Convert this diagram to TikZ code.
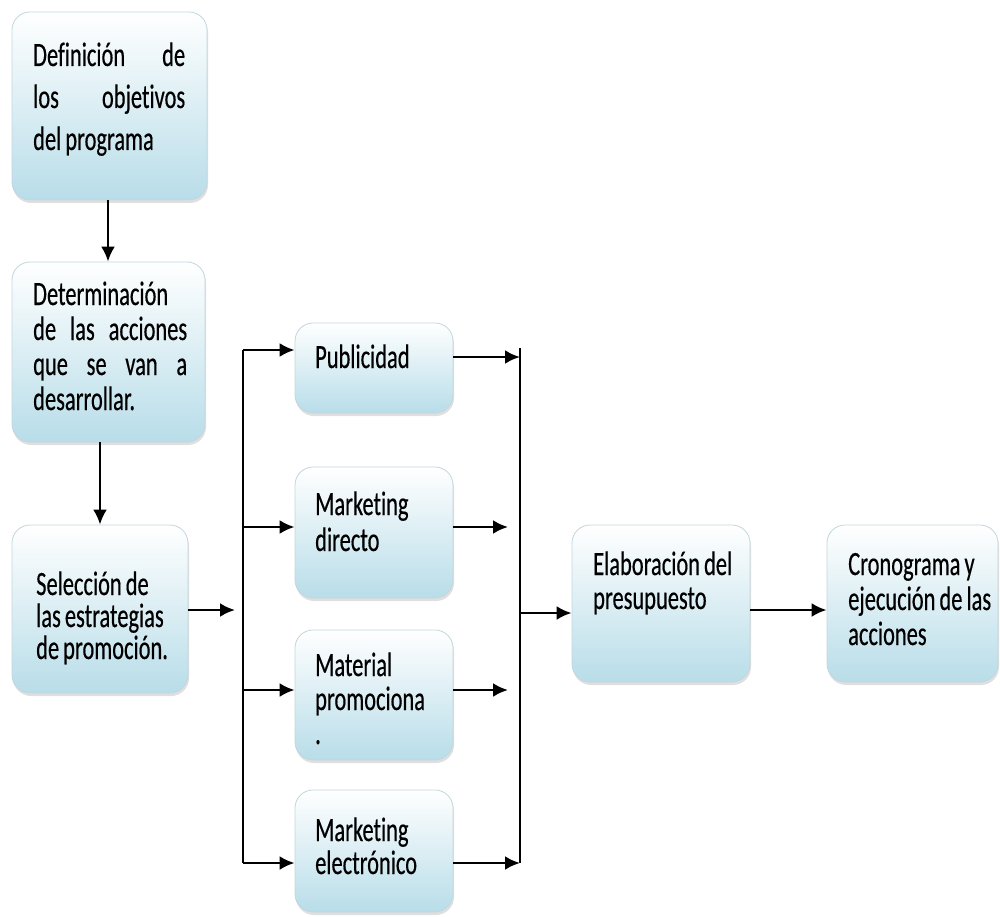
\documentclass[tikz,border=0pt]{standalone}
\usepackage{fontspec}
\setmainfont{Carlito}[FakeStretch=0.66, FakeBold=0.4, WordSpace=0.8, Ligatures=NoCommon]
\usetikzlibrary{arrows.meta,shadows}
\definecolor{boxblue}{HTML}{B8DDE9}
\definecolor{boxline}{HTML}{C3D6DE}
\tikzset{stepbox/.style={draw=boxline, line width=0.8pt, rounded corners=18pt,
        top color=white, bottom color=boxblue,
        drop shadow={opacity=0.25, shadow xshift=1pt, shadow yshift=-3pt}},
    boxtext/.style={anchor=base west, inner sep=0pt, text width=#1, align=flush left},
    boxtext/.default=170pt,
    flow/.style={line width=2.6pt, -{Latex[length=15pt,width=14pt]}},
    bus/.style={line width=2.6pt},
    }

\begin{document}
\begin{tikzpicture}[x=1pt,y=-1pt]
	\useasboundingbox (0,0) rectangle (1000,917);
	% cajas
	\node[stepbox, minimum width=195, minimum height=188] (def) at (109.5,106) {};
	\node[stepbox, minimum width=193, minimum height=180] (det) at (108.5,352) {};
	\node[stepbox, minimum width=176, minimum height=168] (sel) at (100,609) {};
	\node[stepbox, minimum width=158, minimum height=90] (pub) at (374,368) {};
	\node[stepbox, minimum width=158, minimum height=131] (mdir) at (374,532.5) {};
	\node[stepbox, minimum width=158, minimum height=130] (mprom) at (374,695) {};
	\node[stepbox, minimum width=158, minimum height=122] (melec) at (374,851) {};
	\node[stepbox, minimum width=178, minimum height=157] (elab) at (661,603.5) {};
	\node[stepbox, minimum width=171, minimum height=157] (cron) at (912.5,603.5) {};
	% textos
	\node[boxtext=152pt, align=justify, font=\fontsize{34}{42}\selectfont] (deftxt) at (33,66)
		{Definición de\linebreak los objetivos\linebreak del programa};
	\node[boxtext=154pt, align=justify, font=\fontsize{34}{35}\selectfont] (dettxt) at (33,305)
		{Determinación\linebreak de las acciones\linebreak que se van a\linebreak desarrollar.};
	\node[boxtext, font=\fontsize{34}{32}\selectfont] (seltxt) at (36,595)
		{Selección de\\las estrategias\\de promoción.};
	\node[boxtext, font=\fontsize{34}{36}\selectfont] (pubtxt) at (315,368) {Publicidad};
	\node[boxtext, font=\fontsize{34}{36}\selectfont] (mdirtxt) at (315,515) {Marketing\\directo};
	\node[boxtext, font=\fontsize{34}{34}\selectfont] (mpromtxt) at (315,676) {Material\\promociona\\.};
	\node[boxtext, font=\fontsize{34}{33}\selectfont] (melectxt) at (315,841) {Marketing\\electrónico};
	\node[boxtext, font=\fontsize{34}{34}\selectfont] (elabtxt) at (593,575) {Elaboración del\\presupuesto};
	\node[boxtext, font=\fontsize{34}{35}\selectfont] (crontxt) at (848,575) {Cronograma y\\ejecución de las\\acciones};
	% buses
	\coordinate (lt) at (243,350);
	\coordinate (lb) at (243,863);
	\coordinate (lin) at (235,610);
	\coordinate (rt) at (520,348);
	\coordinate (rb) at (520,863);
	\coordinate (rout) at (520,613);
	\draw[bus] (lt) -- (lb);
	\draw[bus] (rt) -- (rb);
	% flechas
	\draw[flow] (def.south -| 108,0) -- (det.north -| 108,0);
	\draw[flow] (det.south -| 100,0) -- (sel.north -| 100,0);
	\draw[flow] (sel.east |- lin) -- (lin);
	\draw[flow] (lt) -- (lt -| pub.west);
	\draw[flow] (243,527) -- (mdir.west |- 0,527);
	\draw[flow] (243,690) -- (mprom.west |- 0,690);
	\draw[flow] (lb) -- (lb -| melec.west);
	\draw[flow] (pub.east |- 0,357) -- (520,357);
	\draw[flow] (mdir.east |- 0,527) -- (508,527);
	\draw[flow] (mprom.east |- 0,690) -- (508,690);
	\draw[flow] (melec.east |- rb) -- (rb);
	\draw[flow] (rout) -- (rout -| elab.west);
	\draw[flow] (elab.east |- 0,610) -- (cron.west |- 0,610);
\end{tikzpicture}
\end{document}
